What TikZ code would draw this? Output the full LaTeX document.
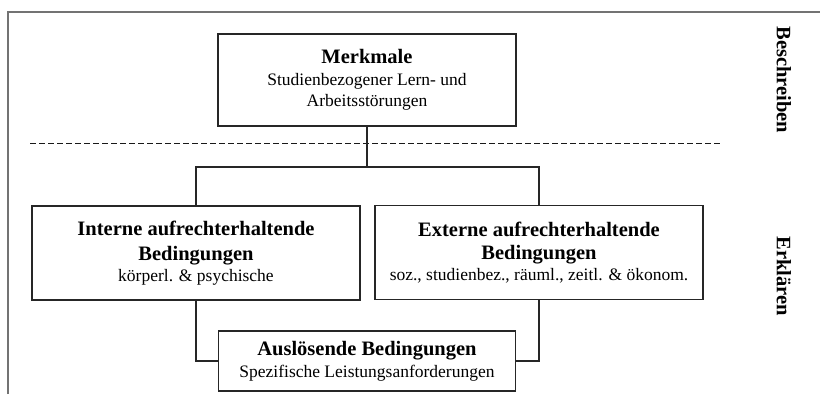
\documentclass[tikz,border=0pt]{standalone}
\usepackage{fontspec}
\setmainfont{Liberation Serif}
\newcommand\hdfont{\bfseries\fontsize{20.5}{24}\selectfont}
\newcommand\txfont{\mdseries\fontsize{17.5}{20.5}\selectfont}
\begin{document}
\begin{tikzpicture}[x=1pt,y=-1pt,
  box/.style={draw=black!85,line width=1.4pt,inner sep=0pt,align=center,
    font=\txfont},
  conn/.style={draw=black!85,line width=1.4pt},
  side/.style={font=\hdfont,rotate=-90},
  frame/.style={draw=black!55,line width=1.4pt}]
\useasboundingbox (0,0) rectangle (820,394);
\fill[white] (0,0) rectangle (820,394);
% frame
\draw[frame] (8,394) -- (8,12) -- (820,12);
% boxes
\node[box,minimum width=298pt,minimum height=92pt] (M) at (367,80)
  {\hdfont Merkmale\\[1.5pt] \txfont Studienbezogener Lern- und\\ \txfont Arbeitsstörungen};
\node[box,minimum width=328pt,minimum height=94pt] (L) at (196,253)
  {\hdfont Interne aufrechterhaltende\\[4pt] \hdfont Bedingungen\\[0.5pt] \txfont körperl. \& psychische};
\node[box,minimum width=328pt,minimum height=94pt] (R) at (539,252.5)
  {\hdfont Externe aufrechterhaltende\\[3pt] \hdfont Bedingungen\\[0.5pt] \txfont soz., studienbez., räuml., zeitl. \& ökonom.};
\node[box,minimum width=297pt,minimum height=60pt] (A) at (367,361)
  {\hdfont Auslösende Bedingungen\\[1.5pt] \txfont Spezifische Leistungsanforderungen};
% dashed separator
\coordinate (d1) at (30,143.5);
\coordinate (d2) at (720,143.5);
\draw[black!90,line width=1.6pt,dash pattern=on 5.5pt off 3.5pt] (d1) -- (d2);
% connectors
\coordinate (jl) at (196,167);
\coordinate (jr) at (539,167);
\draw[conn] (M.south) -- (M.south |- jl);
\draw[conn] (L.north) -- (jl) -- (jr) -- (R.north);
\draw[conn] (L.south) |- (A.west);
\draw[conn] (R.south) |- (A.east);
% side labels
\node[side] (B) at (784,80) {Beschreiben};
\node[side] (E) at (784,276) {Erklären};
\end{tikzpicture}
\end{document}
